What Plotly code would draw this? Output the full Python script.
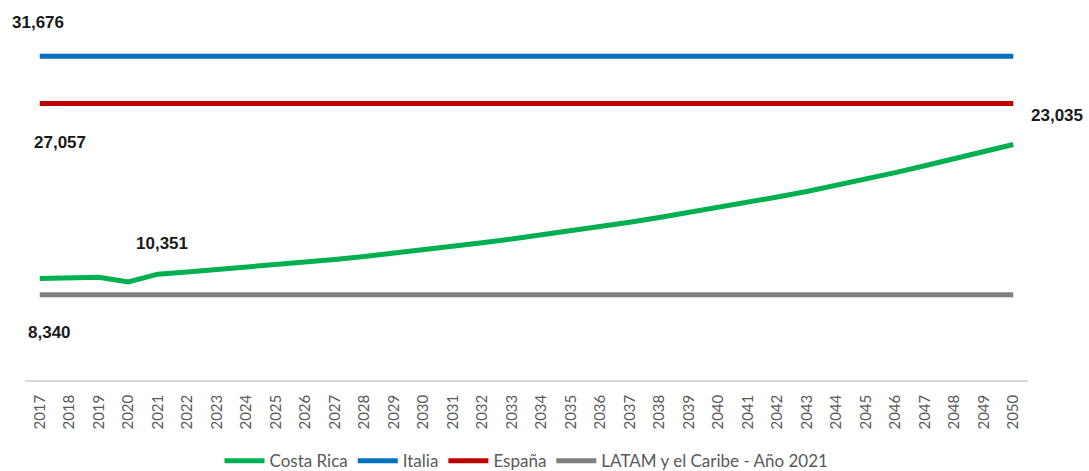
import plotly.graph_objects as go

# Years on the category axis
years = [str(y) for y in range(2017, 2051)]

# Costa Rica series (estimated yearly values)
costa_rica = [9930, 10000, 10060, 9600, 10351, 10570, 10790, 11020, 11260, 11520,
              11790, 12080, 12390, 12720, 13060, 13420, 13790, 14180, 14580, 15000,
              15440, 15900, 16380, 16880, 17380, 17900, 18440, 19020, 19640, 20290,
              20960, 21640, 22330, 23035]

# Reference levels (flat lines)
italia_value = 31676
espana_value = 27057
latam_value = 8340

italia = [italia_value] * len(years)
espana = [espana_value] * len(years)
latam = [latam_value] * len(years)

series = [
    ("Costa Rica", costa_rica, "#00B050"),
    ("Italia", italia, "#0070C0"),
    ("España", espana, "#C00000"),
    ("LATAM y el Caribe - Año 2021", latam, "#7F7F7F"),
]

fig = go.Figure()
for name, values, color in series:
    fig.add_trace(go.Scatter(
        x=years, y=values, mode="lines", name=name,
        line=dict(color=color, width=5),
        hoverinfo="skip",
    ))

# Value labels: (category index, value, text, xshift, yshift)
labels = [
    (0, italia_value, "31,676", -2, 34),
    (0, espana_value, "27,057", 20, -39),
    (len(years) - 1, costa_rica[-1], "23,035", 44, 29),
    (4, costa_rica[4], "10,351", 4, 31),
    (0, latam_value, "8,340", 10, -38),
]
for xi, yv, txt, dx, dy in labels:
    fig.add_annotation(
        x=xi, y=yv, xref="x", yref="y", text=f"<b>{txt}</b>", showarrow=False,
        xshift=dx, yshift=dy,
        font=dict(family="Liberation Sans, Arial", size=17, color="#1a1a1a"),
    )

fig.update_layout(
    width=1089, height=471,
    margin=dict(l=25, r=61, t=12, b=91, autoexpand=False),
    paper_bgcolor="white", plot_bgcolor="white",
    showlegend=True,
    legend=dict(
        orientation="h", x=0.5, xanchor="center",
        yref="container", y=0.021, yanchor="middle",
        font=dict(family="Lato, Open Sans, sans-serif", size=17, color="#595959"),
        itemwidth=40, tracegroupgap=0,
    ),
    xaxis=dict(
        type="category", range=[-0.5, 33.5], automargin=False,
        showgrid=False, showline=True, linecolor="#D9D9D9", linewidth=1.5,
        ticks="", tickangle=-90, ticklabelstandoff=7,
        tickfont=dict(family="Lato, Open Sans, sans-serif", size=15, color="#595959"),
        zeroline=False,
    ),
    yaxis=dict(
        range=[0, 36000], visible=False, showgrid=False, zeroline=False,
        automargin=False,
    ),
)

fig.write_html("out.html")
